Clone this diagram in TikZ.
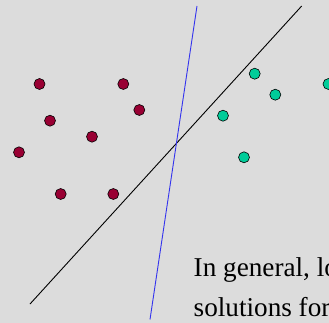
\documentclass[tikz,border=0pt]{standalone}
\usepackage{fontspec}
\setmainfont{Liberation Serif}
\usetikzlibrary{positioning}
\definecolor{slidebg}{HTML}{DCDCDC}
\definecolor{classred}{HTML}{990033}
\definecolor{classgreen}{HTML}{00CC99}
\definecolor{lineblue}{HTML}{3333EE}

\begin{document}
\begin{tikzpicture}[x=1pt, y=-1pt,
    dot/.style={circle, draw=black, line width=0.6pt, minimum size=11pt, inner sep=0pt},
    reddot/.style={dot, fill=classred},
    greendot/.style={dot, fill=classgreen},
    slidetext/.style={anchor=base west, inner sep=0pt, font=\fontsize{27.2}{32}\selectfont}]
    \fill[slidebg] (0,0) rectangle (329,323);
    \useasboundingbox (0,0) rectangle (329,323);
    \clip (0,0) rectangle (329,323);
    % class one
    \node[reddot] (r1) at (39.5,84) {};
    \node[reddot] (r2) at (123.3,84) {};
    \node[reddot] (r3) at (50,120.7) {};
    \node[reddot] (r4) at (139.3,110) {};
    \node[reddot] (r5) at (92,136.7) {};
    \node[reddot] (r6) at (19,152.3) {};
    \node[reddot] (r7) at (60.7,194) {};
    \node[reddot] (r8) at (113.3,194) {};
    % class two
    \node[greendot] (g1) at (254.7,73.7) {};
    \node[greendot] (g2) at (275.3,94.7) {};
    \node[greendot] (g3) at (223,115.7) {};
    \node[greendot] (g4) at (244,157.3) {};
    \node[greendot] (g5) at (328.5,84) {};
    % separating lines
    \coordinate (blackstart) at (30,304);
    \coordinate (blackend) at (301.7,6);
    \coordinate (bluestart) at (197,6);
    \coordinate (blueend) at (150,319.5);
    \draw[black, line width=0.9pt] (blackstart) -- (blackend);
    \draw[lineblue, line width=0.9pt] (bluestart) -- (blueend);
    % caption
    \node[slidetext] (cap1) at (193.5,276.7) {In general, lots};
    \node[slidetext] (cap2) at (193.5,316.7) {solutions for};
\end{tikzpicture}
\end{document}
